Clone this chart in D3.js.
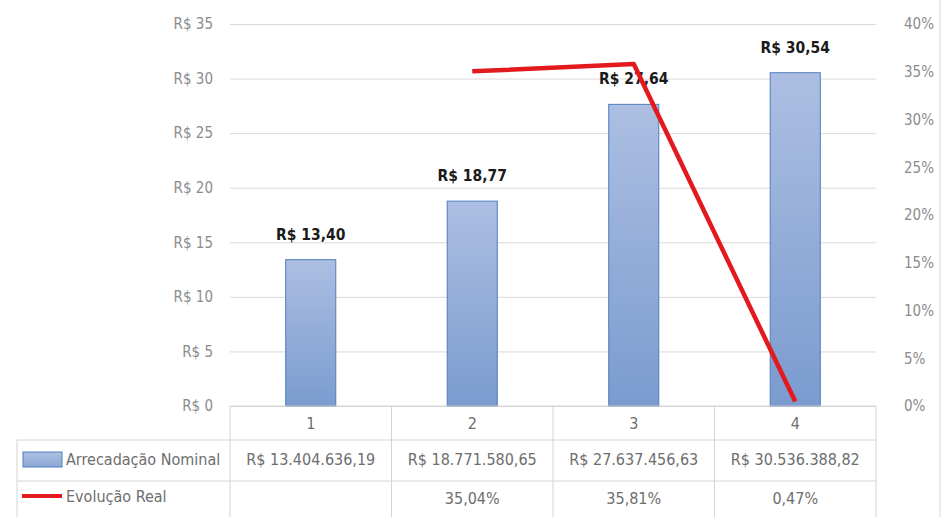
<!DOCTYPE html>
<html>
<head>
<meta charset="utf-8">
<script src="https://cdn.jsdelivr.net/npm/d3@7"></script>
<style>
    body { margin: 0; background: #fff; }
    svg { display: block; }
</style>
</head>
<body>
<script>
    var categories = ["1", "2", "3", "4"];
    var nominal = [13404636.19, 18771580.65, 27637456.63, 30536388.82];
    var evolution = [null, 35.04, 35.81, 0.47];
    var leftTicks = [0, 5, 10, 15, 20, 25, 30, 35];
    var rightTicks = [0, 5, 10, 15, 20, 25, 30, 35, 40];
    var seriesNames = ["Arrecadação Nominal", "Evolução Real"];

    var width = 948, height = 517;
    var margin = {"top": 24, "left": 230, "right": 876, "bottom": 406};
    var font = "'Liberation Sans Narrow', 'DejaVu Sans Condensed', sans-serif";

    var br = d3.formatLocale({"decimal": ",", "thousands": ".", "grouping": [3], "currency": ["R$ ", ""]});
    var money = br.format("$,.2f");
    var pct = br.format(".2f");

    var svg = d3.select("body")
        .append("svg")
        .attr("width", width)
        .attr("height", height);

    var xScale = d3.scaleBand()
        .domain(categories)
        .range([margin.left, margin.right]);

    var yScale = d3.scaleLinear()
        .domain([0, 35])
        .range([margin.bottom, margin.top]);

    var y2Scale = d3.scaleLinear()
        .domain([0, 40])
        .range([margin.bottom, margin.top]);

    var defs = svg.append("defs");
    var grad = defs.append("linearGradient")
        .attr("id", "barGrad")
        .attr("x1", 0).attr("y1", 0).attr("x2", 0).attr("y2", 1);
    grad.append("stop").attr("offset", "0%").attr("stop-color", "#acbfe2");
    grad.append("stop").attr("offset", "100%").attr("stop-color", "#7b9bcf");

    var legGrad = defs.append("linearGradient")
        .attr("id", "legGrad")
        .attr("x1", 0).attr("y1", 0).attr("x2", 0).attr("y2", 1);
    legGrad.append("stop").attr("offset", "0%").attr("stop-color", "#aec0e2");
    legGrad.append("stop").attr("offset", "100%").attr("stop-color", "#8ea9d6");

    // outer chart border on the right
    svg.append("line")
        .attr("x1", 940).attr("x2", 940)
        .attr("y1", 0).attr("y2", height)
        .attr("stroke", "#d9d9d9");

    // gridlines + left axis
    var leftAxis = svg.append("g")
        .attr("transform", "translate(" + margin.left + ",0)")
        .call(d3.axisLeft(yScale)
            .tickValues(leftTicks)
            .tickSize(-(margin.right - margin.left))
            .tickPadding(17)
            .tickFormat(d => "R$ " + d));
    leftAxis.select(".domain").remove();
    leftAxis.selectAll("line").attr("stroke", "#dcd8d8");
    leftAxis.selectAll("text")
        .style("font-family", font)
        .style("font-size", "15px")
        .attr("fill", "#8c8c8c");

    // right axis
    var rightAxis = svg.append("g")
        .attr("transform", "translate(" + margin.right + ",0)")
        .call(d3.axisRight(y2Scale)
            .tickValues(rightTicks)
            .tickSize(0)
            .tickPadding(28)
            .tickFormat(d => d + "%"));
    rightAxis.select(".domain").remove();
    rightAxis.selectAll("text")
        .style("font-family", font)
        .style("font-size", "15px")
        .attr("fill", "#8c8c8c");

    // bars
    var barW = xScale.bandwidth() * 0.31;
    svg.append("g")
        .selectAll("rect")
        .data(nominal)
        .enter()
        .append("rect")
        .attr("x", (d, i) => xScale(categories[i]) + xScale.bandwidth() / 2 - barW / 2)
        .attr("y", d => yScale(d / 1e6))
        .attr("width", barW)
        .attr("height", d => margin.bottom - yScale(d / 1e6))
        .attr("fill", "url(#barGrad)")
        .attr("stroke", "#4f7cbd")
        .attr("stroke-width", 1);

    // bar labels
    svg.append("g")
        .selectAll("text")
        .data(nominal)
        .enter()
        .append("text")
        .attr("x", (d, i) => xScale(categories[i]) + xScale.bandwidth() / 2)
        .attr("y", d => yScale(d / 1e6) - 20)
        .attr("text-anchor", "middle")
        .style("font-family", font)
        .style("font-size", "15.5px")
        .style("font-weight", "bold")
        .attr("fill", "#1a1a1a")
        .text(d => "R$ " + br.format(".2f")(Math.round(d / 1e4) / 100));

    // line
    var lineData = evolution.map((v, i) => [categories[i], v]).filter(d => d[1] != null);
    var line = d3.line()
        .x(d => xScale(d[0]) + xScale.bandwidth() / 2)
        .y(d => y2Scale(d[1]));
    svg.append("path")
        .datum(lineData)
        .attr("d", line)
        .attr("fill", "none")
        .attr("stroke", "#e3191e")
        .attr("stroke-width", 4.5)
        .attr("stroke-linejoin", "round");

    // data table
    var table = svg.append("g");
    var rowY = [406, 440, 481, 517];
    var tableLeft = 17;
    var gridColor = "#d4d4d4";

    // horizontal lines
    table.append("line")
        .attr("x1", margin.left).attr("x2", margin.right)
        .attr("y1", rowY[0]).attr("y2", rowY[0])
        .attr("stroke", gridColor);
    [rowY[1], rowY[2]].forEach(function(y) {
        table.append("line")
            .attr("x1", tableLeft).attr("x2", margin.right)
            .attr("y1", y).attr("y2", y)
            .attr("stroke", gridColor);
    });
    // vertical lines
    categories.concat(["end"]).forEach(function(c, i) {
        var x = i < categories.length ? xScale(c) : margin.right;
        table.append("line")
            .attr("x1", x).attr("x2", x)
            .attr("y1", rowY[0]).attr("y2", height)
            .attr("stroke", gridColor);
    });
    table.append("line")
        .attr("x1", tableLeft).attr("x2", tableLeft)
        .attr("y1", rowY[1]).attr("y2", height)
        .attr("stroke", gridColor);

    function cellText(x, y, t) {
        table.append("text")
            .attr("x", x)
            .attr("y", y)
            .attr("text-anchor", "middle")
            .attr("dominant-baseline", "middle")
            .style("font-family", font)
            .style("font-size", "16px")
            .attr("fill", "#6e6e6e")
            .text(t);
    }

    categories.forEach(function(c, i) {
        var cx = xScale(c) + xScale.bandwidth() / 2;
        cellText(cx, (rowY[0] + rowY[1]) / 2 + 1, c);
        cellText(cx, (rowY[1] + rowY[2]) / 2, money(nominal[i]));
        if (evolution[i] != null) cellText(cx, (rowY[2] + rowY[3]) / 2, pct(evolution[i]) + "%");
    });

    // legend keys
    table.append("rect")
        .attr("x", 23).attr("y", 452)
        .attr("width", 39).attr("height", 15)
        .attr("fill", "url(#legGrad)")
        .attr("stroke", "#4f7fbf");
    table.append("line")
        .attr("x1", 22).attr("x2", 62)
        .attr("y1", 496).attr("y2", 496)
        .attr("stroke", "#e3191e")
        .attr("stroke-width", 4);

    seriesNames.forEach(function(n, i) {
        table.append("text")
            .attr("x", 66)
            .attr("y", i == 0 ? (rowY[1] + rowY[2]) / 2 : (rowY[2] + rowY[3]) / 2 - 2)
            .attr("dominant-baseline", "middle")
            .style("font-family", font)
            .style("font-size", "16px")
            .attr("fill", "#6e6e6e")
            .text(n);
    });
</script>
</body>
</html>
